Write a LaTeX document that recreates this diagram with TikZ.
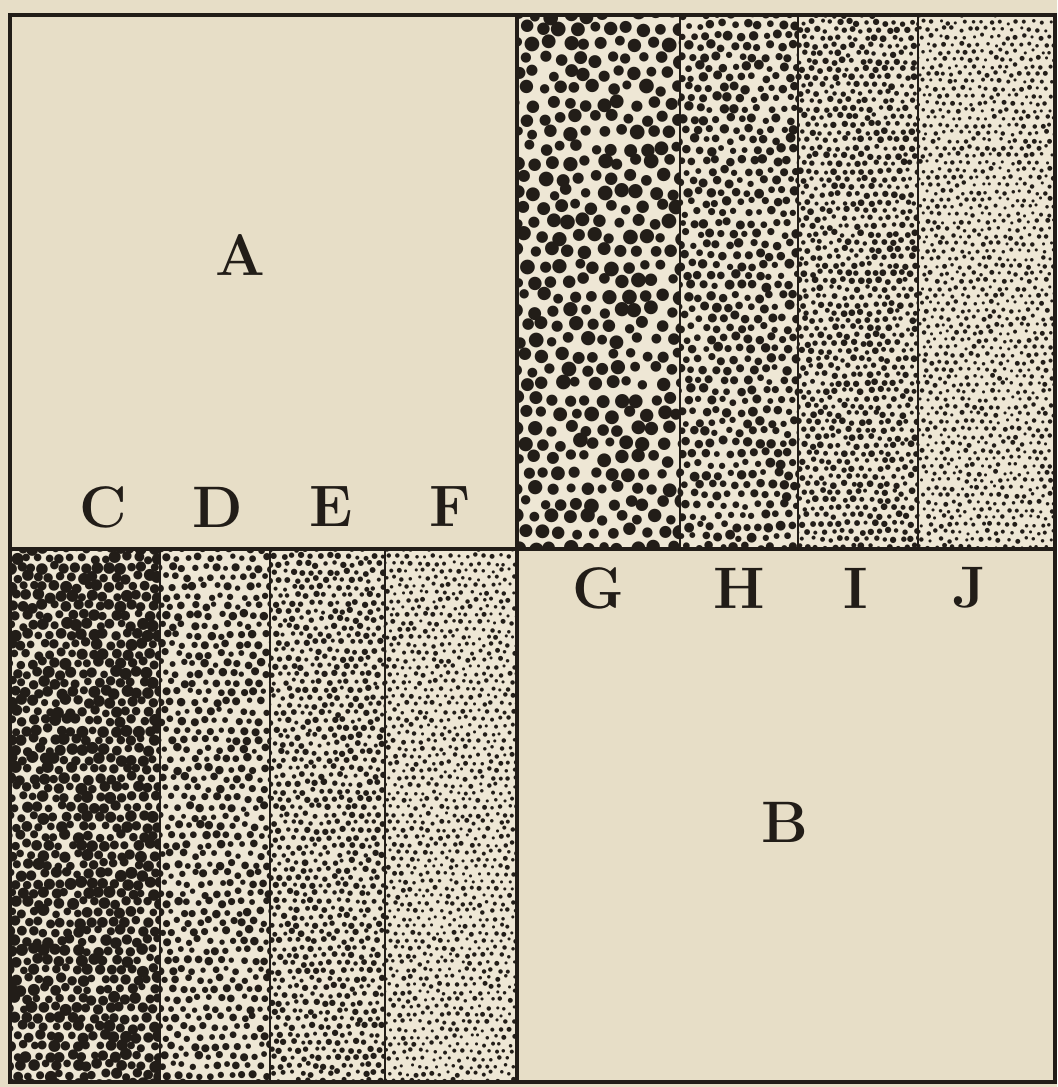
\documentclass[tikz,border=0pt]{standalone}
\usepackage{tikz}
\usetikzlibrary{positioning}

\definecolor{paper}{RGB}{231,222,199}
\definecolor{paperlight}{RGB}{238,231,213}
\definecolor{ink}{RGB}{34,29,24}

% one round glyph, measured once at 10pt
\newdimen\dotW \newdimen\dotH \newdimen\dotD
\font\dotprobe="DejaVu Sans" at 10pt
\setbox0\hbox{\dotprobe ●}
\dotW=\wd0 \dotH=\ht0 \dotD=\dp0

% one dot of a strip: spacing, radius (px)
\newcommand{\stippledot}[2]{%
  \pgfmathsetmacro{\dx}{(\col+0.5*mod(\row,2)+0.2*rand)*#1*0.8536}%
  \pgfmathsetmacro{\dy}{(\row*0.87+0.2*rand)*#1*0.8536}%
  \pgfmathsetmacro{\sz}{round(4*#2*0.8536*(1+0.25*rand)/((\dotH+\dotD)/10))/2}%
  \ifcsname dotf@\sz\endcsname\else
    \expandafter\global\expandafter\font\csname dotf@\sz\endcsname="DejaVu Sans" at \sz pt\relax
  \fi
  \rlap{\kern\dimexpr\dx pt-\sz\dotW/20\relax
    \lower\dimexpr\dy pt+\sz\dotH/20-\sz\dotD/20\relax\hbox{\csname dotf@\sz\endcsname ●}}%
}
% whole strip of dots: width, height, spacing, radius (px)
\newcommand{\stipplebox}[4]{%
  \pgfmathtruncatemacro{\ncol}{#1/#3+1}%
  \pgfmathtruncatemacro{\nrow}{#2/(0.87*#3)+1}%
  \hbox{\foreach \row in {0,...,\nrow}{\foreach \col in {0,...,\ncol}{\stippledot{#3}{#4}}}}%
}

\tikzset{
  frame/.style={draw=ink, line width=2.6pt},
  divider/.style={draw=ink, line width=2.2pt},
  dotfield/.style={anchor=base west, inner sep=0pt, text=ink},
  lbl/.style={text=ink, inner sep=0pt, font=\fontsize{50}{50}\selectfont\bfseries}
}

\begin{document}
\begin{tikzpicture}[x=0.03cm, y=-0.03cm]
\pgfmathsetseed{42}
% paper
\fill[paper] (0,0) rectangle (1057,1087);
\useasboundingbox (0,0) rectangle (1057,1087);
\fill[paperlight] (517,15) rectangle (1055,549);
\fill[paperlight] (10,549) rectangle (517,1082);
% top right strips G H I J, coarse to fine
\begin{scope}
  \clip (517,15) rectangle (680,549);
  \node[dotfield] (dotsG) at (517,15) {\stipplebox{163}{534}{17}{6.0}};
\end{scope}
\begin{scope}
  \clip (680,15) rectangle (798,549);
  \node[dotfield] (dotsH) at (680,15) {\stipplebox{118}{534}{12}{3.9}};
\end{scope}
\begin{scope}
  \clip (798,15) rectangle (918,549);
  \node[dotfield] (dotsI) at (798,15) {\stipplebox{120}{534}{9}{2.7}};
\end{scope}
\begin{scope}
  \clip (918,15) rectangle (1055,549);
  \node[dotfield] (dotsJ) at (918,15) {\stipplebox{137}{534}{8.5}{2.0}};
\end{scope}
% bottom left strips C D E F, coarse to fine
\begin{scope}
  \clip (10,549) rectangle (160,1082);
  \node[dotfield] (dotsC) at (10,549) {\stipplebox{150}{533}{11}{4.9}};
\end{scope}
\begin{scope}
  \clip (160,549) rectangle (270,1082);
  \node[dotfield] (dotsD) at (160,549) {\stipplebox{110}{533}{11}{3.4}};
\end{scope}
\begin{scope}
  \clip (270,549) rectangle (385,1082);
  \node[dotfield] (dotsE) at (270,549) {\stipplebox{115}{533}{9}{2.6}};
\end{scope}
\begin{scope}
  \clip (385,549) rectangle (517,1082);
  \node[dotfield] (dotsF) at (385,549) {\stipplebox{132}{533}{8.5}{2.0}};
\end{scope}
% outer frame and the two crossing lines
\draw[frame] (10,15) rectangle (1055,1082);
\draw[frame] (517,15) -- (517,1082);
\draw[frame] (10,549) -- (1055,549);
% strip dividers
\foreach \xx in {680,798,918}
  \draw[divider] (\xx,15) -- (\xx,549);
\foreach \xx in {160,270,385}
  \draw[divider] (\xx,549) -- (\xx,1082);
% plain fields
\node[lbl] (fieldA) at (240,255) {A};
\node[lbl] (fieldB) at (785,822) {B};
% strip letters
\node[lbl] (stripC) at (103,507) {C};
\node[lbl] (stripD) at (218,507) {D};
\node[lbl] (stripE) at (331,507) {E};
\node[lbl] (stripF) at (450,507) {F};
\node[lbl] (stripG) at (598,588) {G};
\node[lbl] (stripH) at (739,588) {H};
\node[lbl] (stripI) at (856,588) {I};
\node[lbl] (stripJ) at (970,588) {J};
\end{tikzpicture}
\end{document}
